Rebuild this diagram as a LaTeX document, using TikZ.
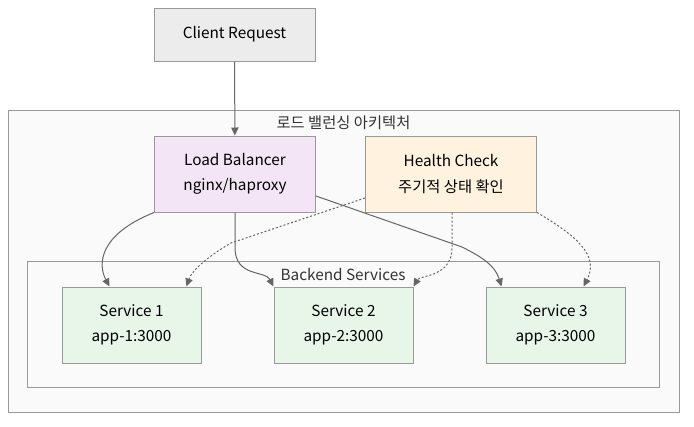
\documentclass[tikz,border=0pt]{standalone}
\usepackage{fontspec}
\setmainfont{Noto Sans CJK KR}
\usepackage{xcolor}
\usepackage{tikz}
\usetikzlibrary{arrows.meta,positioning,calc}
\definecolor{clientfill}{HTML}{ECECEC}
\definecolor{lbfill}{HTML}{F3E5F5}
\definecolor{hcfill}{HTML}{FFF3E0}
\definecolor{svcfill}{HTML}{E8F5E9}
\definecolor{clusterfill}{HTML}{FAFAFA}
\definecolor{edgegray}{HTML}{666666}
\tikzset{
  box/.style={rectangle, draw=gray!80, line width=0.75pt, minimum width=120.75pt, minimum height=57pt, align=center, font=\fontsize{11.5}{19}\selectfont, inner sep=0pt},
  clientbox/.style={box, fill=clientfill, minimum height=39.75pt},
  lbbox/.style={box, fill=lbfill},
  hcbox/.style={box, fill=hcfill, minimum width=128.25pt},
  svcbox/.style={box, fill=svcfill, minimum width=104.25pt},
  cluster/.style={rectangle, draw=gray!80, line width=0.75pt, fill=clusterfill, inner sep=0pt},
  clabel/.style={font=\fontsize{11.5}{14}\selectfont, text=black!80},
  arrow/.style={-{Triangle[length=6pt,width=5.5pt,fill=edgegray]}, draw=edgegray, line width=0.75pt},
  dasharrow/.style={arrow, dash pattern=on 1.5pt off 1.5pt},
}

\begin{document}
\begin{tikzpicture}[x=0.75pt, y=-0.75pt]
  \useasboundingbox (0,0) rectangle (694,426);

  % Clusters
  \node[cluster, minimum width=503.25pt, minimum height=226.5pt] (outer) at (343.5,261) {};
  \node[clabel] (outerlabel) at (343.5,123) {로드 밸런싱 아키텍처};
  \node[cluster, minimum width=474pt, minimum height=94.5pt] (backend) at (343,324) {};
  \node[clabel] (backendlabel) at (343,274) {Backend Services};

  % Nodes
  \node[clientbox] (client) at (234.5,34.5) {\raisebox{-1pt}{Client Request}};
  \node[lbbox] (lb) at (235,174) {Load Balancer\\nginx/haproxy};
  \node[hcbox] (hc) at (451,174) {Health Check\\주기적 상태 확인};

  \node[svcbox] (s1) at (131.5,325) {Service 1\\app-1:3000};
  \node[svcbox] (s2) at (343.5,325) {Service 2\\app-2:3000};
  \node[svcbox] (s3) at (555.5,325) {Service 3\\app-3:3000};

  % Edges
  \draw[arrow] (client) -- (lb);
  \draw[arrow] (lb.south west) .. controls (98,235) and (98,265) .. ($(s1.north)+(-22,0)$);
  \draw[arrow] (lb.south) -- ($(lb.south)+(0,35)$) .. controls ($(lb.south)+(0,65)$) and (265,270) .. ($(s2.north)+(-70,0)$);
  \draw[arrow] ($(lb.east)+(0,22)$) -- (462,247) .. controls (480,256) and (495,265) .. ($(s3.north)+(-54,0)$);

  \draw[dasharrow] ($(hc.west)+(0,24)$) -- (231,243) .. controls (210,255) and (192,270) .. ($(s1.north)+(55,0)$);
  \draw[dasharrow] ($(hc.south)+(1,0)$) -- ($(hc.south)+(1,35)$) .. controls ($(hc.south)+(1,65)$) and (420,275) .. ($(s2.north)+(70,0)$);
  \draw[dasharrow] (hc.south east) .. controls (575,235) and (600,255) .. ($(s3.north)+(28,0)$);
\end{tikzpicture}
\end{document}
